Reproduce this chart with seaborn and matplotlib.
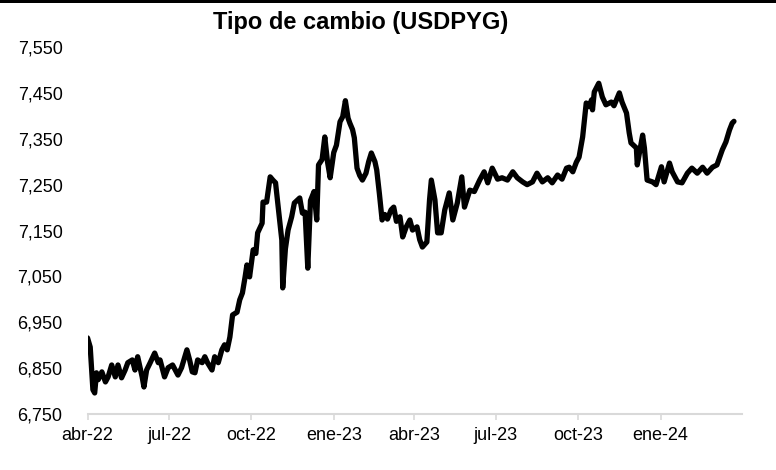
"""
Tipo de cambio USDPYG - line chart
"""

import pandas as pd
import matplotlib
matplotlib.use("Agg")
import matplotlib.pyplot as plt
import matplotlib.ticker as mticker
from matplotlib.patches import Rectangle
import seaborn as sns

# Data
fechas = [
    "2022-04-01", "2022-04-04", "2022-04-07", "2022-04-09", "2022-04-11", "2022-04-13",
    "2022-04-17", "2022-04-21", "2022-04-24", "2022-04-28", "2022-05-02", "2022-05-05",
    "2022-05-09", "2022-05-13", "2022-05-16", "2022-05-21", "2022-05-24", "2022-05-27",
    "2022-06-01", "2022-06-03", "2022-06-06", "2022-06-10", "2022-06-15", "2022-06-19",
    "2022-06-21", "2022-06-26", "2022-06-30", "2022-07-05", "2022-07-11", "2022-07-15",
    "2022-07-21", "2022-07-24", "2022-07-27", "2022-07-30", "2022-08-02", "2022-08-07",
    "2022-08-10", "2022-08-13", "2022-08-18", "2022-08-21", "2022-08-25", "2022-08-29",
    "2022-09-01", "2022-09-04", "2022-09-07", "2022-09-10", "2022-09-15", "2022-09-18",
    "2022-09-21", "2022-09-24", "2022-09-26", "2022-09-29", "2022-10-03", "2022-10-06",
    "2022-10-08", "2022-10-13", "2022-10-14", "2022-10-18", "2022-10-22", "2022-10-25",
    "2022-10-28", "2022-10-31", "2022-11-04", "2022-11-05", "2022-11-08", "2022-11-11",
    "2022-11-15", "2022-11-18", "2022-11-24", "2022-11-27", "2022-11-30", "2022-12-03",
    "2022-12-06", "2022-12-10", "2022-12-13", "2022-12-15", "2022-12-19", "2022-12-22",
    "2022-12-25", "2022-12-28",
    "2023-01-01", "2023-01-04", "2023-01-08", "2023-01-11", "2023-01-14", "2023-01-17",
    "2023-01-19", "2023-01-22", "2023-01-24", "2023-01-27", "2023-01-30", "2023-02-02",
    "2023-02-06", "2023-02-09", "2023-02-12", "2023-02-16", "2023-02-18", "2023-02-21",
    "2023-02-24", "2023-02-27", "2023-03-02", "2023-03-06", "2023-03-09", "2023-03-12",
    "2023-03-16", "2023-03-19", "2023-03-23", "2023-03-27", "2023-03-30", "2023-04-04",
    "2023-04-07", "2023-04-10", "2023-04-15", "2023-04-18", "2023-04-20", "2023-04-24",
    "2023-04-27", "2023-05-01", "2023-05-05", "2023-05-10", "2023-05-14", "2023-05-19",
    "2023-05-24", "2023-05-27", "2023-06-02", "2023-06-07", "2023-06-13", "2023-06-18",
    "2023-06-22", "2023-06-27", "2023-07-03", "2023-07-08", "2023-07-14", "2023-07-20",
    "2023-07-25", "2023-07-31", "2023-08-05", "2023-08-11", "2023-08-16", "2023-08-22",
    "2023-08-28", "2023-09-02", "2023-09-08", "2023-09-13", "2023-09-18", "2023-09-21",
    "2023-09-25", "2023-09-29", "2023-10-02", "2023-10-06", "2023-10-10", "2023-10-13",
    "2023-10-16", "2023-10-17", "2023-10-19", "2023-10-24", "2023-10-28", "2023-11-01",
    "2023-11-07", "2023-11-10", "2023-11-16", "2023-11-19", "2023-11-24", "2023-11-27",
    "2023-11-29", "2023-12-05", "2023-12-06", "2023-12-12", "2023-12-14", "2023-12-17",
    "2023-12-23", "2023-12-27",
    "2024-01-02", "2024-01-05", "2024-01-11", "2024-01-14", "2024-01-20", "2024-01-25",
    "2024-01-31", "2024-02-05", "2024-02-11", "2024-02-17", "2024-02-22", "2024-02-28",
    "2024-03-04", "2024-03-10", "2024-03-14", "2024-03-18", "2024-03-21", "2024-03-23",
]

usdpyg = [
    6916, 6896, 6803, 6796, 6840, 6825,
    6842, 6820, 6831, 6857, 6831, 6857,
    6829, 6846, 6862, 6868, 6846, 6875,
    6831, 6809, 6846, 6862, 6883, 6862,
    6868, 6831, 6851, 6857, 6835, 6851,
    6890, 6868, 6842, 6840, 6868, 6862,
    6875, 6862, 6846, 6875, 6862, 6890,
    6901, 6890, 6918, 6966, 6972, 6999,
    7014, 7049, 7075, 7049, 7108, 7100,
    7145, 7166, 7212, 7212, 7267, 7260,
    7254, 7201, 7129, 7025, 7110, 7151,
    7180, 7210, 7221, 7188, 7190, 7068,
    7215, 7235, 7173, 7293, 7305, 7354,
    7300, 7265,
    7320, 7336, 7387, 7398, 7433, 7395,
    7384, 7370, 7352, 7286, 7270, 7260,
    7275, 7300, 7319, 7300, 7282, 7230,
    7173, 7185, 7175, 7195, 7201, 7170,
    7180, 7136, 7158, 7173, 7151, 7158,
    7130, 7114, 7125, 7217, 7260, 7217,
    7145, 7145, 7195, 7232, 7173, 7210,
    7267, 7201, 7238, 7235, 7260, 7278,
    7254, 7286, 7262, 7265, 7260, 7278,
    7265, 7256, 7250, 7256, 7275, 7256,
    7265, 7254, 7271, 7262, 7286, 7288,
    7278, 7299, 7310, 7354, 7428, 7420,
    7435, 7413, 7452, 7471, 7441, 7424,
    7430, 7422, 7450, 7430, 7406, 7363,
    7341, 7330, 7293, 7358, 7330, 7260,
    7256, 7250,
    7289, 7256, 7297, 7278, 7256, 7254,
    7275, 7286, 7275, 7288, 7275, 7288,
    7293, 7326, 7343, 7369, 7384, 7388,
]

tick_fechas = ["2022-04-01", "2022-07-01", "2022-10-01", "2023-01-01",
               "2023-04-01", "2023-07-01", "2023-10-01", "2024-01-01"]
tick_labels = ["abr-22", "jul-22", "oct-22", "ene-23",
               "abr-23", "jul-23", "oct-23", "ene-24"]
y_ticks = [6750, 6850, 6950, 7050, 7150, 7250, 7350, 7450, 7550]

df = pd.DataFrame({"fecha": pd.to_datetime(fechas), "valor": usdpyg})

sns.set_theme(style="white")
plt.rcParams["font.family"] = ["Liberation Sans", "DejaVu Sans"]

fig = plt.figure(figsize=(7.76, 4.70), dpi=100)
ax = fig.add_axes([0.1128, 0.119, 0.8434, 0.781])

sns.lineplot(data=df, x="fecha", y="valor", color="black", linewidth=3.8, ax=ax)

ax.set_xlim(pd.Timestamp("2022-04-01"), pd.Timestamp("2024-04-01"))
ax.set_ylim(6750, 7550)
ax.set_yticks(y_ticks)
ax.yaxis.set_major_formatter(mticker.FuncFormatter(lambda v, _: f"{v:,.0f}"))
ax.set_xticks(pd.to_datetime(tick_fechas))
ax.set_xticklabels(tick_labels)
ax.set_xlabel("")
ax.set_ylabel("")

for side in ["top", "right", "left"]:
    ax.spines[side].set_visible(False)
ax.spines["bottom"].set_color("#d9d9d9")
ax.spines["bottom"].set_linewidth(1.5)
ax.tick_params(axis="x", bottom=True, direction="out", length=4, width=1.2,
               color="#d9d9d9", labelsize=13, labelcolor="black", pad=5)
ax.tick_params(axis="y", left=False, labelsize=13, labelcolor="black", pad=12)
ax.grid(False)

fig.text(0.465, 0.953, "Tipo de cambio (USDPYG)", ha="center", va="center",
         fontsize=17, fontweight="bold", color="black")

# thin black frame edge at the top of the picture
fig.add_artist(Rectangle((0, 1 - 3 / 470), 1, 3 / 470, transform=fig.transFigure,
                         color="black", lw=0))

fig.savefig("out.png", dpi=100)
